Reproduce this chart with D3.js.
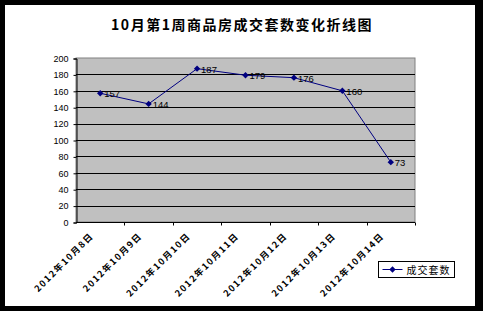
<!DOCTYPE html>
<html>
<head>
<meta charset="utf-8">
<script src="https://cdn.jsdelivr.net/npm/d3@7"></script>
<style>
  body { margin: 0; background: #000; }
  svg { display: block; }
</style>
</head>
<body>
<div id="chart"></div>
<script>
const title = '10月第1周商品房成交套数变化折线图'
const seriesName = '成交套数'
const dates = ['2012年10月8日', '2012年10月9日', '2012年10月10日', '2012年10月11日',
    '2012年10月12日', '2012年10月13日', '2012年10月14日']
const values = [157, 144, 187, 179, 176, 160, 73]
const yTicks = [0, 20, 40, 60, 80, 100, 120, 140, 160, 180, 200]

const config = {
    width: 483,
    height: 311,
    plot: { left: 76, top: 58, right: 415, bottom: 222 },
}

const svg = d3.select('#chart')
    .append('svg')
    .attr('width', config.width)
    .attr('height', config.height)

// black frame, white chart area
svg.append('rect')
    .attr('x', 0).attr('y', 0)
    .attr('width', config.width).attr('height', config.height)
    .attr('fill', '#000')
svg.append('rect')
    .attr('x', 5).attr('y', 5)
    .attr('width', 470).attr('height', 301)
    .attr('fill', '#fff')

svg.append('text')
    .attr('x', 242)
    .attr('y', 30)
    .attr('text-anchor', 'middle')
    .attr('font-family', '"Noto Sans CJK SC", sans-serif')
    .attr('font-size', '14px')
    .attr('font-weight', 'bold')
    .attr('letter-spacing', '1.5px')
    .text(title)

const scaleX = d3.scaleBand()
    .domain(dates)
    .range([config.plot.left, config.plot.right])

const scaleY = d3.scaleLinear()
    .domain([0, 200])
    .range([config.plot.bottom, config.plot.top])

const plotW = config.plot.right - config.plot.left
const plotH = config.plot.bottom - config.plot.top

svg.append('rect')
    .attr('x', config.plot.left)
    .attr('y', config.plot.top)
    .attr('width', plotW)
    .attr('height', plotH)
    .attr('fill', '#c0c0c0')
    .attr('stroke', '#808080')
    .attr('stroke-width', 1)

// gridlines
svg.append('g')
    .selectAll('line')
    .data(yTicks.filter(v => v > 0 && v < 200))
    .join('line')
    .attr('x1', config.plot.left)
    .attr('x2', config.plot.right)
    .attr('y1', d => Math.round(scaleY(d)) + 0.5)
    .attr('y2', d => Math.round(scaleY(d)) + 0.5)
    .attr('stroke', '#000')
    .attr('stroke-width', 1)

const yAxis = svg.append('g')
    .attr('transform', `translate(${config.plot.left + 0.5}, 0.5)`)
    .call(d3.axisLeft(scaleY).tickValues(yTicks).tickSize(3).tickPadding(5))
yAxis.select('.domain').attr('stroke', '#000')
yAxis.selectAll('text')
    .attr('font-family', 'Arial, "Liberation Sans", sans-serif')
    .attr('font-size', '9px')
    .attr('fill', '#000')

// x axis with ticks between categories
const xAxis = svg.append('g')
    .attr('transform', `translate(0, ${config.plot.bottom + 0.5})`)
xAxis.append('line')
    .attr('x1', config.plot.left).attr('x2', config.plot.right)
    .attr('stroke', '#000')
xAxis.selectAll('line.tick')
    .data(dates)
    .join('line')
    .attr('class', 'tick')
    .attr('x1', d => Math.round(scaleX(d) + scaleX.bandwidth()) + 0.5)
    .attr('x2', d => Math.round(scaleX(d) + scaleX.bandwidth()) + 0.5)
    .attr('y1', 0).attr('y2', 3)
    .attr('stroke', '#000')
xAxis.selectAll('text')
    .data(dates)
    .join('text')
    .attr('transform', d => `translate(${scaleX(d) + scaleX.bandwidth() / 2 - 6}, 14) rotate(-45)`)
    .attr('text-anchor', 'end')
    .attr('font-family', '"Noto Sans CJK SC", sans-serif')
    .attr('font-size', '9px')
    .attr('font-weight', 'bold')
    .attr('letter-spacing', '1.5px')
    .text(d => d)

const points = dates.map((d, i) => ({ date: d, value: values[i] }))
const cx = d => scaleX(d.date) + scaleX.bandwidth() / 2

const line = d3.line()
    .x(cx)
    .y(d => scaleY(d.value))

svg.append('path')
    .datum(points)
    .attr('d', line)
    .attr('fill', 'none')
    .attr('stroke', '#000080')
    .attr('stroke-width', 1)

const diamond = d3.symbol().type(d3.symbolDiamond2).size(26)

svg.append('g')
    .selectAll('path')
    .data(points)
    .join('path')
    .attr('d', diamond)
    .attr('transform', d => `translate(${cx(d)}, ${scaleY(d.value)})`)
    .attr('fill', '#000080')

svg.append('g')
    .selectAll('text')
    .data(points)
    .join('text')
    .attr('x', d => cx(d) + 4)
    .attr('y', d => scaleY(d.value) + 4)
    .attr('font-family', 'Arial, "Liberation Sans", sans-serif')
    .attr('font-size', '9.5px')
    .attr('fill', '#000')
    .text(d => d.value)

// legend
const legend = svg.append('g').attr('transform', 'translate(378.5, 261.5)')
legend.append('rect')
    .attr('width', 76).attr('height', 16)
    .attr('fill', '#fff')
    .attr('stroke', '#000')
legend.append('line')
    .attr('x1', 4).attr('x2', 24)
    .attr('y1', 8).attr('y2', 8)
    .attr('stroke', '#000080')
legend.append('path')
    .attr('d', diamond)
    .attr('transform', 'translate(14, 8)')
    .attr('fill', '#000080')
legend.append('text')
    .attr('x', 28)
    .attr('y', 12)
    .attr('font-family', '"Noto Sans CJK SC", sans-serif')
    .attr('font-size', '10px')
    .attr('letter-spacing', '1px')
    .attr('fill', '#000')
    .text(seriesName)
</script>
</body>
</html>
